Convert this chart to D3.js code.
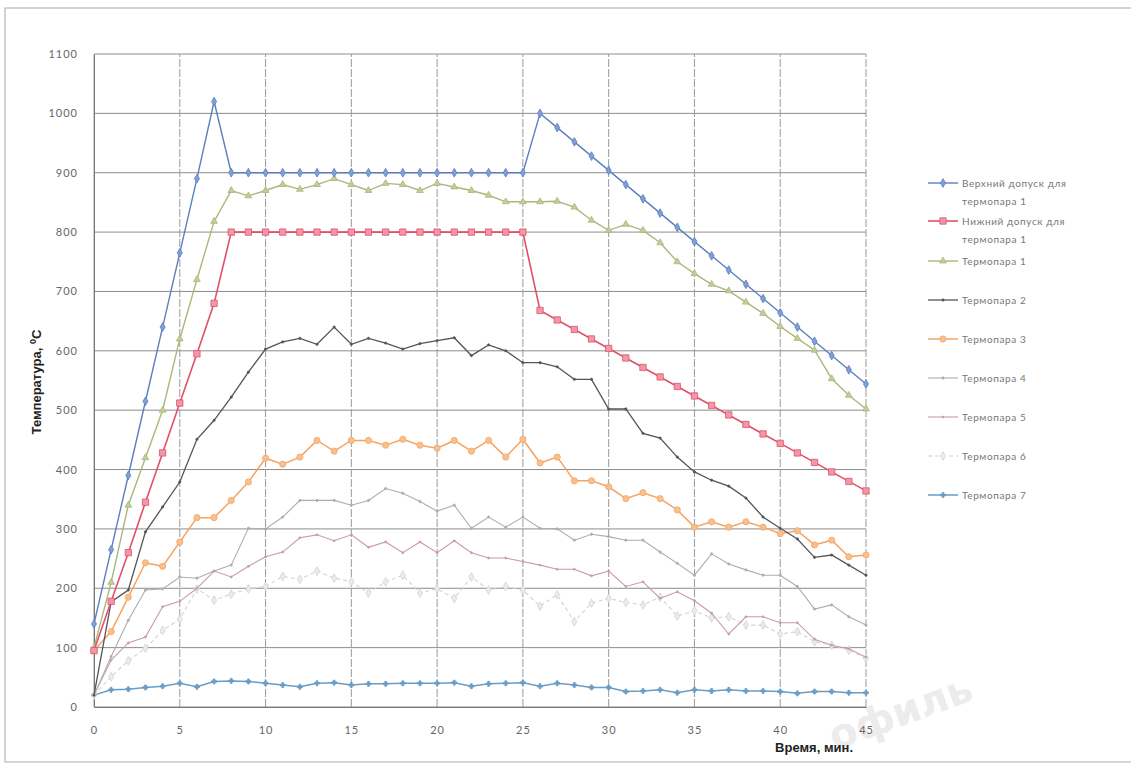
<!DOCTYPE html>
<html>
<head>
<meta charset="utf-8">
<script src="https://cdn.jsdelivr.net/npm/d3@7"></script>
<style>
  body { margin: 0; background: #fff; }
  svg { display: block; }
  .tick text { font-family: Lato, "Open Sans", sans-serif; font-size: 11px; fill: #666; letter-spacing: 1px; }
  .legend text { font-family: Lato, "Open Sans", sans-serif; font-size: 10px; fill: #777; letter-spacing: 0.6px; }
  .ax-title { font-family: "Liberation Sans Narrow", "Liberation Sans", sans-serif; font-weight: bold; font-size: 13px; fill: #222; }
</style>
</head>
<body>
<div id="chart"></div>
<script>
// minutes
const minutes = [0,1,2,3,4,5,6,7,8,9,10,11,12,13,14,15,16,17,18,19,20,21,22,23,24,25,26,27,28,29,30,31,32,33,34,35,36,37,38,39,40,41,42,43,44,45];

const yTicks = [0,100,200,300,400,500,600,700,800,900,1000,1100];
const xTicks = [0,5,10,15,20,25,30,35,40,45];

const upper = [140,265,390,515,640,765,890,1020,900,900,900,900,900,900,900,900,900,900,900,900,900,900,900,900,900,900,1000,976,952,928,904,880,856,832,808,784,760,736,712,688,664,640,616,592,568,544];
const lower = [95,178,260,345,428,512,595,680,800,800,800,800,800,800,800,800,800,800,800,800,800,800,800,800,800,800,668,652,636,620,604,588,572,556,540,524,508,492,476,460,444,428,412,396,380,364];
const t1 = [100,210,340,420,500,620,720,818,870,861,870,880,872,880,890,880,870,882,880,870,882,876,870,862,851,851,851,852,842,820,803,813,803,782,750,730,712,701,682,663,641,621,601,553,525,502];
const t2 = [20,177,197,295,337,379,451,483,522,564,603,615,621,611,640,611,621,613,603,612,617,622,592,610,600,580,580,573,552,552,502,502,461,453,421,396,382,372,352,320,301,283,252,256,239,222];
const t3 = [95,127,185,243,237,278,319,319,348,379,419,409,421,449,431,449,449,441,451,441,436,449,431,449,421,451,411,421,381,381,371,351,361,351,332,303,312,303,312,303,292,297,273,281,253,256];
const t4 = [20,85,146,197,199,219,217,229,239,301,300,320,348,348,348,340,348,368,360,346,330,340,301,320,303,320,301,300,281,291,287,281,281,261,242,222,258,241,231,222,222,203,165,172,152,138];
const t5 = [20,79,108,118,169,178,200,229,219,237,253,261,285,290,280,290,269,278,260,278,260,280,260,251,251,245,239,232,232,221,229,203,211,183,194,179,158,123,152,152,142,142,114,104,98,84];
const t6 = [20,51,78,99,129,148,199,180,190,199,203,220,215,229,217,211,192,211,222,192,199,183,219,197,203,197,170,189,144,175,183,176,172,185,153,162,150,152,138,138,123,127,110,104,96,82];
const t7 = [20,29,30,33,35,40,34,43,44,43,40,37,34,40,41,37,39,39,40,40,40,41,35,39,40,41,35,40,37,33,33,26,27,29,24,29,27,29,27,27,26,23,26,26,24,24];

const seriesNames = [["Верхний допуск для", "термопара 1"], ["Нижний допуск для", "термопара 1"], ["Термопара 1"], ["Термопара 2"], ["Термопара 3"], ["Термопара 4"], ["Термопара 5"], ["Термопара 6"], ["Термопара 7"]];
const seriesValues = [upper, lower, t1, t2, t3, t4, t5, t6, t7];

// look of every series
const styles = [
  { color: "#5b7fbf", sym: d3.symbolDiamond, size: 22, fill: "#7f9fd6", width: 1.4 },
  { color: "#e0506a", sym: d3.symbolSquare, size: 40, fill: "#f297a8", width: 1.6 },
  { color: "#a9b87a", sym: d3.symbolTriangle, size: 20, fill: "#c2cd9c", width: 1.4 },
  { color: "#555555", sym: d3.symbolCircle, size: 4, fill: "#555555", width: 1.3 },
  { color: "#f5a462", sym: d3.symbolCircle, size: 30, fill: "#f9c08f", width: 1.5 },
  { color: "#acacb6", sym: d3.symbolCircle, size: 4, fill: "#acacb6", width: 1.1 },
  { color: "#c99aaa", sym: d3.symbolCircle, size: 3, fill: "#c99aaa", width: 1.1 },
  { color: "#d2d2d2", sym: d3.symbolDiamond, size: 22, fill: "#ececec", width: 1.1, dash: "4,3" },
  { color: "#6a9cc4", sym: d3.symbolCross, size: 14, fill: "#6a9cc4", width: 1.5 }
];

const width = 1131, height = 768;

const svg = d3.select("#chart")
  .append("svg")
  .attr("width", width)
  .attr("height", height);

// outer frame
svg.append("rect")
  .attr("x", 5).attr("y", 8)
  .attr("width", 1140).attr("height", 754)
  .attr("fill", "none")
  .attr("stroke", "#aaa");

// watermark
svg.append("text")
  .attr("transform", "translate(905,725) rotate(-20)")
  .attr("text-anchor", "middle")
  .style("font-family", "DejaVu Sans, sans-serif")
  .style("font-weight", "bold")
  .style("font-size", "40px")
  .style("fill", "#ececec")
  .text("офиль");

const x = d3.scaleLinear().domain([0, 45]).range([94, 866]);
const y = d3.scaleLinear().domain([0, 1100]).range([707, 54]);

// grid
svg.append("g")
  .selectAll("line")
  .data(yTicks)
  .enter()
  .append("line")
  .attr("x1", x(0)).attr("x2", x(45))
  .attr("y1", d => y(d)).attr("y2", d => y(d))
  .attr("stroke", "#8c8c8c")
  .attr("stroke-width", 1);

svg.append("g")
  .selectAll("line")
  .data(xTicks)
  .enter()
  .append("line")
  .attr("x1", d => x(d)).attr("x2", d => x(d))
  .attr("y1", y(0)).attr("y2", y(1100))
  .attr("stroke", "#9a9a9a")
  .attr("stroke-width", 1)
  .attr("stroke-dasharray", d => d === 0 ? null : "8,2");

// axes
const yAxis = svg.append("g")
  .attr("transform", "translate(" + x(0) + ",0)")
  .call(d3.axisLeft(y).tickValues(yTicks).tickFormat(d3.format("d")).tickSize(0).tickPadding(16));
yAxis.select(".domain").attr("stroke", "#777");

const xAxis = svg.append("g")
  .attr("transform", "translate(0," + y(0) + ")")
  .call(d3.axisBottom(x).tickValues(xTicks).tickFormat(d3.format("d")).tickSize(0).tickPadding(19));
xAxis.select(".domain").attr("stroke", "#777");

// titles
const yt = svg.append("text")
  .attr("class", "ax-title")
  .attr("transform", "translate(41,382) rotate(-90)")
  .attr("text-anchor", "middle");
yt.append("tspan").text("Температура, ");
yt.append("tspan").attr("dy", -5).style("font-size", "9px").text("0");
yt.append("tspan").attr("dy", 5).text("С");

svg.append("text")
  .attr("class", "ax-title")
  .attr("x", 853).attr("y", 752)
  .attr("text-anchor", "end")
  .text("Время, мин.");

// lines
const line = d3.line()
  .x((d, i) => x(minutes[i]))
  .y(d => y(d));

const plot = svg.append("g");

// draw back to front so the tolerance lines sit on top
for (let k = seriesValues.length - 1; k >= 0; k--) {
  const st = styles[k];
  const g = plot.append("g");
  g.append("path")
    .datum(seriesValues[k])
    .attr("d", line)
    .attr("fill", "none")
    .attr("stroke", st.color)
    .attr("stroke-width", st.width)
    .attr("stroke-dasharray", st.dash || null);
  g.selectAll("path.m")
    .data(seriesValues[k])
    .enter()
    .append("path")
    .attr("class", "m")
    .attr("transform", (d, i) => "translate(" + x(minutes[i]) + "," + y(d) + ")")
    .attr("d", d3.symbol().type(st.sym).size(st.size))
    .attr("fill", st.fill)
    .attr("stroke", st.color)
    .attr("stroke-width", 0.8);
}

// legend
const legendY = [183, 221, 261, 300, 339, 378, 417, 456, 495];
const legend = svg.append("g").attr("class", "legend");

seriesNames.forEach(function(name, k) {
  const st = styles[k];
  const row = legend.append("g").attr("transform", "translate(928," + legendY[k] + ")");
  row.append("line")
    .attr("x1", 0).attr("x2", 30)
    .attr("stroke", st.color)
    .attr("stroke-width", st.width)
    .attr("stroke-dasharray", st.dash || null);
  row.append("path")
    .attr("transform", "translate(15,0)")
    .attr("d", d3.symbol().type(st.sym).size(st.size))
    .attr("fill", st.fill)
    .attr("stroke", st.color)
    .attr("stroke-width", 0.8);
  name.forEach(function(txt, j) {
    row.append("text")
      .attr("x", 34)
      .attr("y", j * 18)
      .attr("dy", "0.35em")
      .text(txt);
  });
});
</script>
</body>
</html>
